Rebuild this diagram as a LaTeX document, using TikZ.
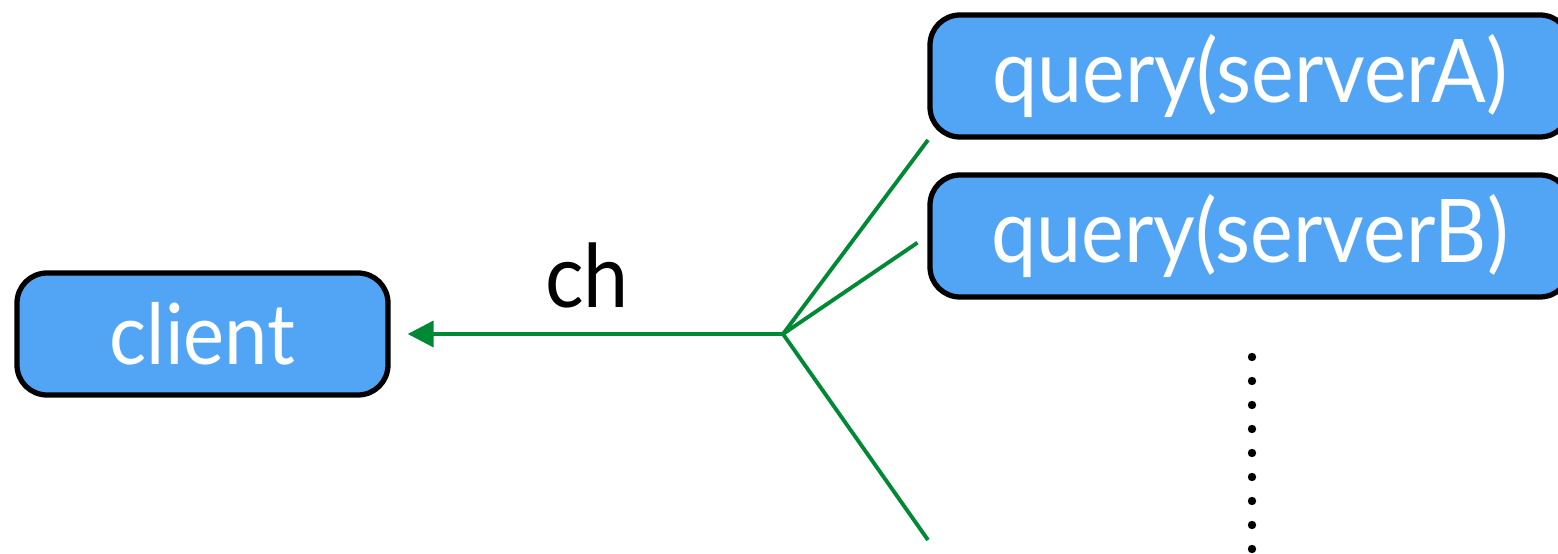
\documentclass[tikz,border=0pt]{standalone}
\usepackage{fontspec}
\setmainfont{Lato}[FakeStretch=0.92]
\usetikzlibrary{arrows.meta}
\usetikzlibrary{positioning}
\definecolor{boxblue}{RGB}{82,165,245}
\definecolor{chgreen}{RGB}{0,137,52}

\begin{document}
\begin{tikzpicture}[
  procbox/.style={draw=black,line width=1.5pt,fill=boxblue,rounded corners=0.3cm,minimum height=1.22cm,text=white,font=\fontsize{25}{28}\selectfont,inner sep=0pt},
  chline/.style={draw=chgreen,line width=1.1pt}]
\useasboundingbox (0,0) rectangle (15.58,5.54);
\node[procbox,minimum width=3.71cm,font=\fontsize{24}{28}\selectfont] (client) at (2.025,2.20) {client};
\node[procbox,minimum width=6.4cm] (qa) at (12.5,4.78) {query(serverA)};
\node[procbox,minimum width=6.4cm] (qb) at (12.5,3.18) {query(serverB)};

\coordinate (fork) at (7.83,2.20);
\coordinate (enda) at (9.28,4.14);
\coordinate (endc) at (9.28,0.14);
\draw[chline,-{Triangle[length=0.26cm,width=0.26cm]},shorten >=0.17cm] (fork) -- (client.east);
\draw[chline] (fork) -- (enda);
\draw[chline,shorten >=0.12cm] (fork) -- (qb.west);
\draw[chline] (fork) -- (endc);
\node[font=\fontsize{25}{28}\selectfont] (ch) at (5.87,2.79) {ch};

\foreach \i in {0,...,8}
  \fill (12.52,1.97-0.24*\i) circle (0.042);
\end{tikzpicture}
\end{document}
